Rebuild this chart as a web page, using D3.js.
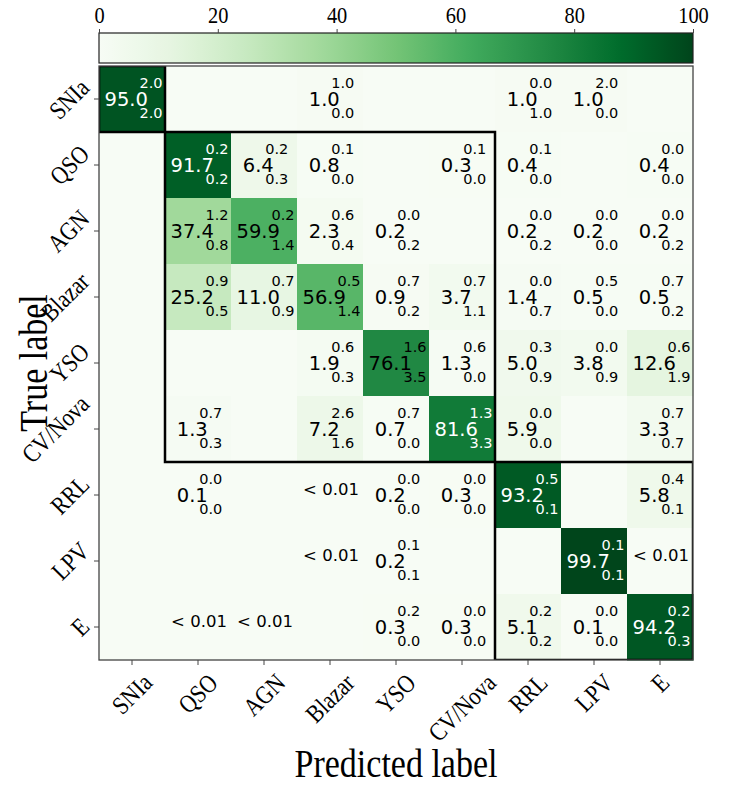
<!DOCTYPE html>
<html>
<head>
<meta charset="utf-8">
<script src="https://cdn.jsdelivr.net/npm/d3@7"></script>
<style>
  body { margin: 0; background: #fff; }
  svg { display: block; }
</style>
</head>
<body>
<svg id="chart" width="745" height="787"></svg>
<script>
// Class labels (rows = true class, columns = predicted class)
const classes = ["SNIa", "QSO", "AGN", "Blazar", "YSO", "CV/Nova", "RRL", "LPV", "E"];

// Marker for fractions that round below 0.01 %
const LT = 0.005;

// Row-normalised confusion matrix, in percent (0 = no objects)
const percent = [
  [95.0, 0,    0,    1.0,  0,    0,    1.0,  1.0,  0   ],
  [0,    91.7, 6.4,  0.8,  0,    0.3,  0.4,  0,    0.4 ],
  [0,    37.4, 59.9, 2.3,  0.2,  0,    0.2,  0.2,  0.2 ],
  [0,    25.2, 11.0, 56.9, 0.9,  3.7,  1.4,  0.5,  0.5 ],
  [0,    0,    0,    1.9,  76.1, 1.3,  5.0,  3.8,  12.6],
  [0,    1.3,  0,    7.2,  0.7,  81.6, 5.9,  0,    3.3 ],
  [0,    0.1,  0,    LT,   0.2,  0.3,  93.2, 0,    5.8 ],
  [0,    0,    0,    LT,   0.2,  0,    0,    99.7, LT  ],
  [0,    LT,   LT,   0,    0.3,  0.3,  5.1,  0.1,  94.2]
];

// Upper uncertainties (null = not shown)
const errUpper = [
  [2.0, null, null, 1.0, null, null, 0.0, 2.0, null],
  [null, 0.2, 0.2, 0.1, null, 0.1, 0.1, null, 0.0],
  [null, 1.2, 0.2, 0.6, 0.0, null, 0.0, 0.0, 0.0],
  [null, 0.9, 0.7, 0.5, 0.7, 0.7, 0.0, 0.5, 0.7],
  [null, null, null, 0.6, 1.6, 0.6, 0.3, 0.0, 0.6],
  [null, 0.7, null, 2.6, 0.7, 1.3, 0.0, null, 0.7],
  [null, 0.0, null, null, 0.0, 0.0, 0.5, null, 0.4],
  [null, null, null, null, 0.1, null, null, 0.1, null],
  [null, null, null, null, 0.2, 0.0, 0.2, 0.0, 0.2]
];

// Lower uncertainties (null = not shown)
const errLower = [
  [2.0, null, null, 0.0, null, null, 1.0, 0.0, null],
  [null, 0.2, 0.3, 0.0, null, 0.0, 0.0, null, 0.0],
  [null, 0.8, 1.4, 0.4, 0.2, null, 0.2, 0.0, 0.2],
  [null, 0.5, 0.9, 1.4, 0.2, 1.1, 0.7, 0.0, 0.2],
  [null, null, null, 0.3, 3.5, 0.0, 0.9, 0.9, 1.9],
  [null, 0.3, null, 1.6, 0.0, 3.3, 0.0, null, 0.7],
  [null, 0.0, null, null, 0.0, 0.0, 0.1, null, 0.1],
  [null, null, null, null, 0.1, null, null, 0.1, null],
  [null, null, null, null, 0.0, 0.0, 0.2, 0.0, 0.3]
];

// Highlighted groups of classes: [first index, last index]
const groups = [[0, 0], [1, 5], [6, 8]];

const colorTicks = [0, 20, 40, 60, 80, 100];

// ---------------------------------------------------------------------------
const svg = d3.select("#chart");
const plot = { left: 99, top: 66, size: 594 };
const cbar = { top: 33, height: 30 };
const serif = "'Liberation Serif', 'Times New Roman', serif";
const sans = "'DejaVu Sans', sans-serif";
const narrow = 0.85;   // horizontal squeeze of the serif labels

const x = d3.scaleBand().domain(classes).range([plot.left, plot.left + plot.size]);
const y = d3.scaleBand().domain(classes).range([plot.top, plot.top + plot.size]);

// Greens colour map, 0-100 %
const greens = ["#f7fcf5", "#e5f5e0", "#c7e9c0", "#a1d99b", "#74c476",
                "#41ab5d", "#238b45", "#006d2c", "#00441b"];
const color = d3.scaleLinear()
  .domain(d3.range(greens.length).map(i => 100 * i / (greens.length - 1)))
  .range(greens)
  .interpolate(d3.interpolateRgb)
  .clamp(true);

// ---- colour bar ----------------------------------------------------------
const defs = svg.append("defs");
const grad = defs.append("linearGradient").attr("id", "cbarGrad")
  .attr("x1", "0%").attr("x2", "100%").attr("y1", "0%").attr("y2", "0%");
d3.range(0, 101, 2).forEach(v => {
  grad.append("stop").attr("offset", v + "%").attr("stop-color", color(v));
});
const cx = d3.scaleLinear().domain([0, 100]).range([plot.left, plot.left + plot.size]);
svg.append("rect")
  .attr("x", plot.left).attr("y", cbar.top)
  .attr("width", plot.size).attr("height", cbar.height)
  .attr("fill", "url(#cbarGrad)")
  .attr("stroke", "#222").attr("stroke-width", 1.2);

const cAxis = svg.append("g")
  .attr("transform", `translate(0,${cbar.top})`)
  .call(d3.axisTop(cx).tickValues(colorTicks).tickSize(4).tickPadding(6));
cAxis.select(".domain").remove();
cAxis.selectAll("line").attr("stroke", "#444");
cAxis.selectAll("text")
  .attr("font-family", serif).attr("font-size", 24).attr("fill", "#000")
  .attr("transform", `scale(${narrow},1)`);

// ---- heatmap cells -------------------------------------------------------
const cells = [];
percent.forEach((row, i) => row.forEach((v, j) => {
  cells.push({ i, j, v, up: errUpper[i][j], lo: errLower[i][j] });
}));

const gCells = svg.append("g");
gCells.selectAll("rect").data(cells).join("rect")
  .attr("x", d => x(classes[d.j]))
  .attr("y", d => y(classes[d.i]))
  .attr("width", x.bandwidth() + 0.5)
  .attr("height", y.bandwidth() + 0.5)
  .attr("fill", d => color(d.v));

// ---- cell annotations ----------------------------------------------------
const fsMain = 19.5, fsErr = 14.5, fsSmall = 16.5;
const overlap = 8.5;
const textColor = v => v > 80 ? "#fff" : "#000";

const gText = svg.append("g");
cells.filter(d => d.v > 0).forEach(d => {
  const ccx = x(classes[d.j]) + x.bandwidth() / 2;
  const ccy = y(classes[d.i]) + y.bandwidth() / 2;
  const g = gText.append("g").attr("transform", `translate(${ccx},${ccy})`);
  const fill = textColor(d.v);

  if (d.v < 0.01) {
    g.append("text")
      .attr("x", 1).attr("y", -6 + 0.364 * fsSmall)
      .attr("text-anchor", "middle")
      .attr("font-family", sans).attr("font-size", fsSmall)
      .attr("fill", fill)
      .text("< 0.01");
    return;
  }

  const main = g.append("text")
    .attr("font-family", sans).attr("font-size", fsMain)
    .attr("fill", fill)
    .text(d.v.toFixed(1));
  const wMain = main.node().getComputedTextLength();

  const up = g.append("text").attr("font-family", sans).attr("font-size", fsErr)
    .attr("fill", fill).text(d.up.toFixed(1));
  const lo = g.append("text").attr("font-family", sans).attr("font-size", fsErr)
    .attr("fill", fill).text(d.lo.toFixed(1));
  const wErr = Math.max(up.node().getComputedTextLength(), lo.node().getComputedTextLength());

  const total = wMain + wErr - overlap;
  const x0 = 1.5 - total / 2;
  main.attr("x", x0).attr("y", -0.5 + 0.364 * fsMain);
  up.attr("x", x0 + wMain - overlap).attr("y", -16.5 + 0.364 * fsErr);
  lo.attr("x", x0 + wMain - overlap).attr("y", 14 + 0.364 * fsErr);
});

// ---- group boxes ---------------------------------------------------------
defs.append("clipPath").attr("id", "plotClip")
  .append("rect")
  .attr("x", plot.left).attr("y", plot.top)
  .attr("width", plot.size).attr("height", plot.size);

svg.append("g").attr("clip-path", "url(#plotClip)")
  .selectAll("rect").data(groups).join("rect")
  .attr("x", d => x(classes[d[0]]))
  .attr("y", d => y(classes[d[0]]))
  .attr("width", d => x(classes[d[1]]) + x.bandwidth() - x(classes[d[0]]))
  .attr("height", d => y(classes[d[1]]) + y.bandwidth() - y(classes[d[0]]))
  .attr("fill", "none")
  .attr("stroke", "#000")
  .attr("stroke-width", 2.5);

// frame
svg.append("rect")
  .attr("x", plot.left).attr("y", plot.top)
  .attr("width", plot.size).attr("height", plot.size)
  .attr("fill", "none").attr("stroke", "#444").attr("stroke-width", 1.3);

// ---- axes ----------------------------------------------------------------
const tickFs = 25.5;
const xAxis = svg.append("g")
  .attr("transform", `translate(0,${plot.top + plot.size})`)
  .call(d3.axisBottom(x).tickSize(5).tickFormat(""));
xAxis.select(".domain").remove();
xAxis.selectAll("line").attr("stroke", "#444");

const yAxis = svg.append("g")
  .attr("transform", `translate(${plot.left},0)`)
  .call(d3.axisLeft(y).tickSize(5).tickFormat(""));
yAxis.select(".domain").remove();
yAxis.selectAll("line").attr("stroke", "#444");

// Rotated tick labels, positioned by their rotated bounding box
function rotatedLabel(sel, label) {
  const t = sel.append("text")
    .attr("font-family", serif).attr("font-size", tickFs)
    .attr("text-anchor", "middle").attr("dominant-baseline", "central")
    .attr("fill", "#000").text(label);
  const w = t.node().getComputedTextLength() * narrow;
  return { t, half: (w + 0.8 * tickFs) / (2 * Math.SQRT2) };
}

const gxl = svg.append("g");
classes.forEach(c => {
  const { t, half } = rotatedLabel(gxl, c);
  const px = x(c) + x.bandwidth() / 2;
  const py = plot.top + plot.size + 11 + half;
  t.attr("transform", `translate(${px},${py}) rotate(-45) scale(${narrow},1)`);
});

const gyl = svg.append("g");
classes.forEach(c => {
  const { t, half } = rotatedLabel(gyl, c);
  const px = plot.left - 7 - half;
  const py = y(c) + y.bandwidth() / 2;
  t.attr("transform", `translate(${px},${py}) rotate(-45) scale(${narrow},1)`);
});

// Axis titles
svg.append("text")
  .attr("transform", `translate(${plot.left + plot.size / 2},777) scale(${narrow},1)`)
  .attr("text-anchor", "middle")
  .attr("font-family", serif).attr("font-size", 40)
  .text("Predicted label");

svg.append("text")
  .attr("transform", `translate(47,${plot.top + plot.size / 2}) rotate(-90) scale(${narrow},1)`)
  .attr("text-anchor", "middle")
  .attr("font-family", serif).attr("font-size", 40)
  .text("True label");
</script>
</body>
</html>
